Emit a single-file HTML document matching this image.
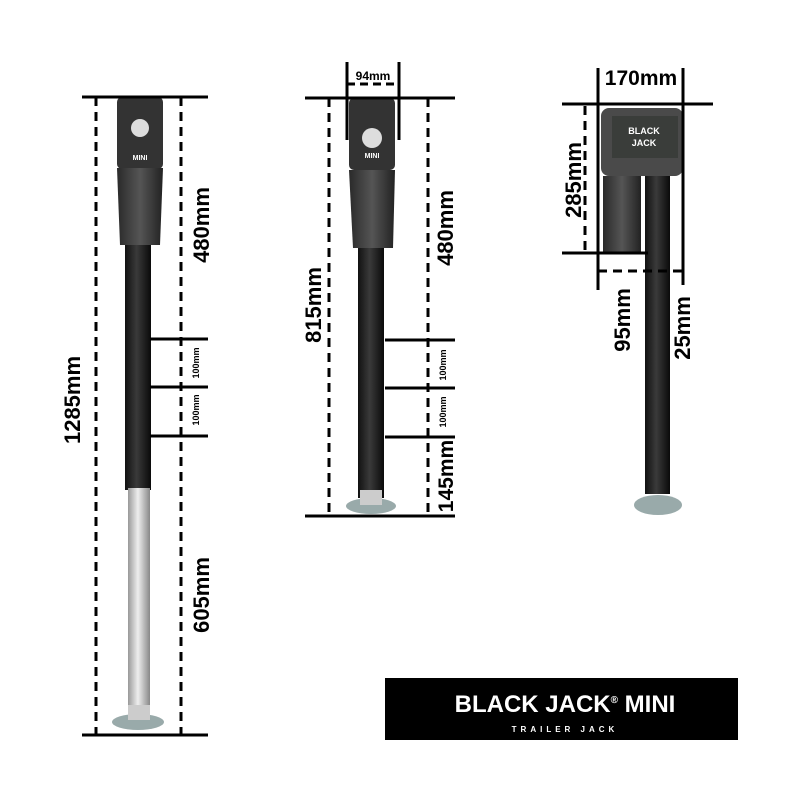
<!DOCTYPE html>
<html><head><style>body{margin:0;background:#fff}svg{display:block}</style></head><body>
<svg width="800" height="800" viewBox="0 0 800 800" xmlns="http://www.w3.org/2000/svg" font-family="Liberation Sans, sans-serif" font-weight="bold">
<defs>
<linearGradient id="blk" x1="0" x2="1"><stop offset="0" stop-color="#111"/><stop offset=".45" stop-color="#3a3a3a"/><stop offset="1" stop-color="#0a0a0a"/></linearGradient>
<linearGradient id="gry" x1="0" x2="1"><stop offset="0" stop-color="#2a2a2a"/><stop offset=".5" stop-color="#555"/><stop offset="1" stop-color="#222"/></linearGradient>
<linearGradient id="sil" x1="0" x2="1"><stop offset="0" stop-color="#999"/><stop offset=".45" stop-color="#eee"/><stop offset="1" stop-color="#888"/></linearGradient>
</defs>
<!-- jack 1 body -->
<rect x="117" y="97" width="46" height="72" rx="5" fill="#333"/>
<circle cx="140" cy="128" r="9" fill="#ddd"/>
<text x="140" y="160" font-size="7" fill="#fff" text-anchor="middle">MINI</text>
<path d="M117 168 H163 L160 245 H120 Z" fill="url(#gry)"/>
<rect x="125" y="245" width="26" height="245" fill="url(#blk)"/>
<rect x="128" y="488" width="22" height="228" fill="url(#sil)"/>
<ellipse cx="138" cy="722" rx="26" ry="8" fill="#9aa"/>
<rect x="128" y="705" width="22" height="15" fill="#ccc"/>
<!-- jack 2 body -->
<rect x="349" y="98" width="46" height="72" rx="5" fill="#333"/>
<circle cx="372" cy="138" r="10" fill="#ddd"/>
<text x="372" y="158" font-size="7" fill="#fff" text-anchor="middle">MINI</text>
<path d="M349 170 H395 L393 248 H353 Z" fill="url(#gry)"/>
<rect x="358" y="248" width="26" height="250" fill="url(#blk)"/>
<ellipse cx="371" cy="506" rx="25" ry="8" fill="#9aa"/>
<rect x="360" y="490" width="22" height="15" fill="#ccc"/>
<!-- jack 3 body -->
<rect x="603" y="176" width="38" height="76" fill="url(#gry)"/>
<rect x="645" y="176" width="25" height="318" fill="url(#blk)"/>
<rect x="601" y="108" width="82" height="68" rx="8" fill="#4a4a4a"/>
<rect x="612" y="116" width="66" height="42" fill="#3a3d3a"/>
<text x="644" y="134" font-size="9" fill="#fff" text-anchor="middle">BLACK</text>
<text x="644" y="146" font-size="9" fill="#fff" text-anchor="middle">JACK</text>
<ellipse cx="658" cy="505" rx="24" ry="10" fill="#9aa"/>
<g stroke="#000" stroke-width="3" fill="none">
<line x1="82" y1="97" x2="208" y2="97"/><line x1="82" y1="735" x2="208" y2="735"/>
<line x1="96" y1="97" x2="96" y2="735" stroke-dasharray="9,6"/>
<line x1="181" y1="97" x2="181" y2="735" stroke-dasharray="9,6"/>
<line x1="150" y1="339" x2="208" y2="339"/><line x1="150" y1="387" x2="208" y2="387"/><line x1="150" y1="436" x2="208" y2="436"/>
<line x1="305" y1="98" x2="455" y2="98"/><line x1="305" y1="516" x2="455" y2="516"/>
<line x1="329" y1="98" x2="329" y2="516" stroke-dasharray="9,6"/>
<line x1="428" y1="98" x2="428" y2="516" stroke-dasharray="9,6"/>
<line x1="385" y1="340" x2="455" y2="340"/><line x1="385" y1="388" x2="455" y2="388"/><line x1="385" y1="437" x2="455" y2="437"/>
<line x1="347" y1="62" x2="347" y2="140"/><line x1="399" y1="62" x2="399" y2="140"/>
<line x1="347" y1="84" x2="399" y2="84" stroke-dasharray="8,5"/>
<line x1="598" y1="68" x2="598" y2="290"/><line x1="683" y1="68" x2="683" y2="285"/>
<line x1="562" y1="104" x2="713" y2="104"/><line x1="562" y1="253" x2="648" y2="253"/>
<line x1="585" y1="106" x2="585" y2="253" stroke-dasharray="9,6"/>
<line x1="598" y1="271" x2="683" y2="271" stroke-dasharray="9,6"/>
</g>
<g fill="#000">
<text x="373" y="80" font-size="12" text-anchor="middle" fill="#000" stroke="#fff" stroke-width="0">94mm</text>
<text transform="translate(80,400) rotate(-90)" font-size="22" text-anchor="middle">1285mm</text>
<text transform="translate(209,225) rotate(-90)" font-size="22" text-anchor="middle">480mm</text>
<text transform="translate(199,363) rotate(-90)" font-size="9" text-anchor="middle">100mm</text>
<text transform="translate(199,410) rotate(-90)" font-size="9" text-anchor="middle">100mm</text>
<text transform="translate(209,595) rotate(-90)" font-size="22" text-anchor="middle">605mm</text>
<text transform="translate(321,305) rotate(-90)" font-size="22" text-anchor="middle">815mm</text>
<text transform="translate(453,228) rotate(-90)" font-size="22" text-anchor="middle">480mm</text>
<text transform="translate(446,365) rotate(-90)" font-size="9" text-anchor="middle">100mm</text>
<text transform="translate(446,412) rotate(-90)" font-size="9" text-anchor="middle">100mm</text>
<text transform="translate(453,476) rotate(-90)" font-size="21" text-anchor="middle">145mm</text>
<text x="641" y="85" font-size="21" text-anchor="middle">170mm</text>
<text transform="translate(581,180) rotate(-90)" font-size="22" text-anchor="middle">285mm</text>
<text transform="translate(630,320) rotate(-90)" font-size="22" text-anchor="middle">95mm</text>
<text transform="translate(690,328) rotate(-90)" font-size="22" text-anchor="middle">25mm</text>
</g>
<rect x="385" y="678" width="353" height="62" fill="#000"/>
<text x="565" y="712" font-size="24" fill="#fff" text-anchor="middle">BLACK JACK<tspan font-size="10" dy="-9">®</tspan><tspan dy="9"> MINI</tspan></text>
<text x="565" y="732" font-size="8" fill="#fff" text-anchor="middle" letter-spacing="4">TRAILER JACK</text>
</svg>
</body></html>
